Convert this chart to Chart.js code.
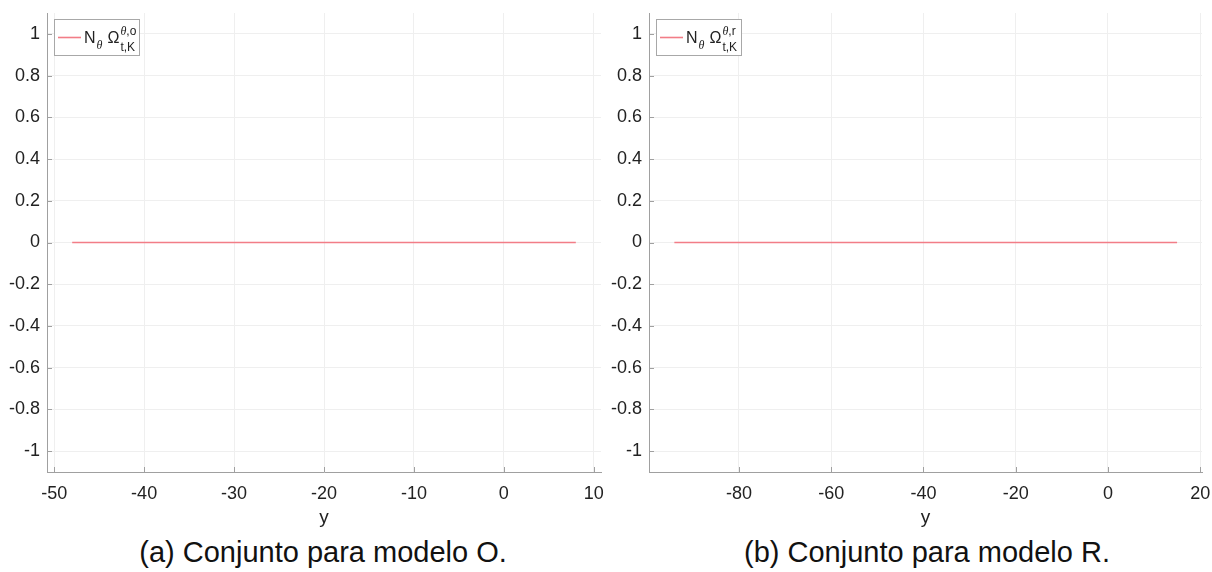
<!DOCTYPE html>
<html>
<head>
<meta charset="utf-8">
<title>Conjunto para modelos O y R</title>
<script src="https://cdn.jsdelivr.net/npm/chart.js@4.4.1/dist/chart.umd.min.js"></script>
<style>
  body { margin: 0; background: #fff; width: 1212px; height: 572px; position: relative; overflow: hidden;
         font-family: "Liberation Sans", Arial, sans-serif; }
  canvas { position: absolute; top: 0; }
  #chartO { left: 0; }
  #chartR { left: 606px; }
  .caption { position: absolute; top: 535px; width: 606px; font-size: 29px; line-height: 34px;
             color: #111; text-align: center; }
</style>
</head>
<body>
<canvas id="chartO" width="606" height="530"></canvas>
<canvas id="chartR" width="606" height="530"></canvas>
<div class="caption" style="left:20px">(a) Conjunto para modelo O.</div>
<div class="caption" style="left:624px">(b) Conjunto para modelo R.</div>
<script>
// shared y axis
const yTicks = [-1, -0.8, -0.6, -0.4, -0.2, 0, 0.2, 0.4, 0.6, 0.8, 1];
const yLimits = [-1.1, 1.1];

// modelo O
const modelOX = [-48, 8];
const modelOY = [0, 0];
const modelOTicks = [-50, -40, -30, -20, -10, 0, 10];
const modelOLimits = [-50.8, 10.8];
const modelOLegend = ['N', 'θ', 'Ω', 'θ,o', 't,K'];

// modelo R
const modelRX = [-94, 15];
const modelRY = [0, 0];
const modelRTicks = [-80, -60, -40, -20, 0, 20];
const modelRLimits = [-99.5, 20.4];
const modelRLegend = ['N', 'θ', 'Ω', 'θ,r', 't,K'];

const FONT = '"Liberation Sans", Arial, sans-serif';
const AXIS_GRAY = '#a0a0a0';
const LINE_RED = 'rgb(242,125,135)';

function fmt(v) {
    return String(Math.round(v * 10) / 10);
}

// small ticks pointing into the plot, like the original figure
const innerTicks = {
    id: 'innerTicks',
    afterDatasetsDraw(chart) {
        const {ctx, chartArea: a, scales: {x, y}} = chart;
        ctx.save();
        ctx.strokeStyle = AXIS_GRAY;
        ctx.lineWidth = 1;
        ctx.beginPath();
        x.ticks.forEach(t => {
            const px = Math.round(x.getPixelForValue(t.value)) + 0.5;
            ctx.moveTo(px, a.bottom);
            ctx.lineTo(px, a.bottom - 5);
        });
        y.ticks.forEach(t => {
            const py = Math.round(y.getPixelForValue(t.value)) + 0.5;
            ctx.moveTo(a.left, py);
            ctx.lineTo(a.left + 5, py);
        });
        ctx.stroke();
        ctx.restore();
    }
};

// legend with sub/superscripts: N_θ Ω^{..}_{t,K}
const mathLegend = {
    id: 'mathLegend',
    afterDraw(chart, args, opts) {
        const {ctx, chartArea: a} = chart;
        const [base, baseSub, sym, sup, sub] = opts.parts;
        const x0 = Math.round(a.left) + 7;
        const y0 = Math.round(a.top) + 6;
        const w = 85, h = 36;
        ctx.save();
        ctx.fillStyle = '#fff';
        ctx.fillRect(x0, y0, w, h);
        ctx.strokeStyle = '#a8a8a8';
        ctx.lineWidth = 1;
        ctx.strokeRect(x0 + 0.5, y0 + 0.5, w, h);

        const ds = chart.data.datasets[0];
        ctx.strokeStyle = ds.borderColor;
        ctx.lineWidth = ds.borderWidth;
        ctx.beginPath();
        ctx.moveTo(x0 + 4, y0 + 18.5);
        ctx.lineTo(x0 + 27, y0 + 18.5);
        ctx.stroke();

        ctx.fillStyle = '#222';
        ctx.textBaseline = 'alphabetic';
        ctx.textAlign = 'left';
        const bl = y0 + 24;
        let x = x0 + 30;
        ctx.font = '16px ' + FONT;
        ctx.fillText(base, x, bl);
        x += ctx.measureText(base).width + 1;
        ctx.font = 'italic 12px "Liberation Serif", serif';
        ctx.fillText(baseSub, x, bl + 6);
        x += ctx.measureText(baseSub).width + 5;
        ctx.font = '16px ' + FONT;
        ctx.fillText(sym, x, bl);
        x += ctx.measureText(sym).width + 1;
        ctx.font = 'italic 12px "Liberation Serif", serif';
        ctx.fillText(sup.charAt(0), x, bl - 8);
        const thW = ctx.measureText(sup.charAt(0)).width;
        ctx.font = '12px ' + FONT;
        ctx.fillText(sup.slice(1), x + thW, bl - 8);
        ctx.fillText(sub, x, bl + 8);
        ctx.restore();
    }
};

function makeChart(id, xs, ys, xTicks, xLimits, legendParts, yWidth, rightPad) {
    const ctx = document.getElementById(id).getContext('2d');
    return new Chart(ctx, {
        type: 'line',
        data: {
            datasets: [{
                label: 'N_θ Ω',
                data: xs.map((v, i) => ({x: v, y: ys[i]})),
                borderColor: LINE_RED,
                backgroundColor: LINE_RED,
                borderWidth: 1.6,
                pointRadius: 0,
                tension: 0
            }]
        },
        options: {
            responsive: false,
            animation: false,
            devicePixelRatio: 1,
            layout: { padding: { top: 13, right: rightPad, left: 0, bottom: 0 } },
            plugins: {
                legend: { display: false },
                tooltip: { enabled: false },
                mathLegend: { parts: legendParts }
            },
            scales: {
                x: {
                    type: 'linear',
                    min: xLimits[0],
                    max: xLimits[1],
                    afterBuildTicks: s => { s.ticks = xTicks.map(v => ({value: v})); },
                    afterFit: s => {
                        s.height = 58;
                        s.paddingLeft = 0;
                        s.paddingRight = 0;
                    },
                    grid: { color: '#efefef', drawTicks: false },
                    border: { color: AXIS_GRAY, width: 1 },
                    ticks: {
                        padding: 11,
                        color: '#222',
                        font: { family: FONT, size: 18 },
                        maxRotation: 0,
                        callback: v => fmt(v)
                    },
                    title: {
                        display: true,
                        text: 'y',
                        color: '#222',
                        font: { family: FONT, size: 19 },
                        padding: { top: 0, bottom: 1 }
                    }
                },
                y: {
                    type: 'linear',
                    min: yLimits[0],
                    max: yLimits[1],
                    afterBuildTicks: s => { s.ticks = yTicks.map(v => ({value: v})); },
                    afterFit: s => {
                        s.width = yWidth;
                        s.paddingTop = 0;
                        s.paddingBottom = 0;
                    },
                    grid: { color: '#efefef', drawTicks: false },
                    border: { color: AXIS_GRAY, width: 1 },
                    ticks: {
                        padding: 7,
                        color: '#222',
                        font: { family: FONT, size: 18 },
                        callback: v => fmt(v)
                    }
                }
            }
        },
        plugins: [innerTicks, mathLegend]
    });
}

makeChart('chartO', modelOX, modelOY, modelOTicks, modelOLimits, modelOLegend, 47, 5);
makeChart('chartR', modelRX, modelRY, modelRTicks, modelRLimits, modelRLegend, 43, 10);
</script>
</body>
</html>
